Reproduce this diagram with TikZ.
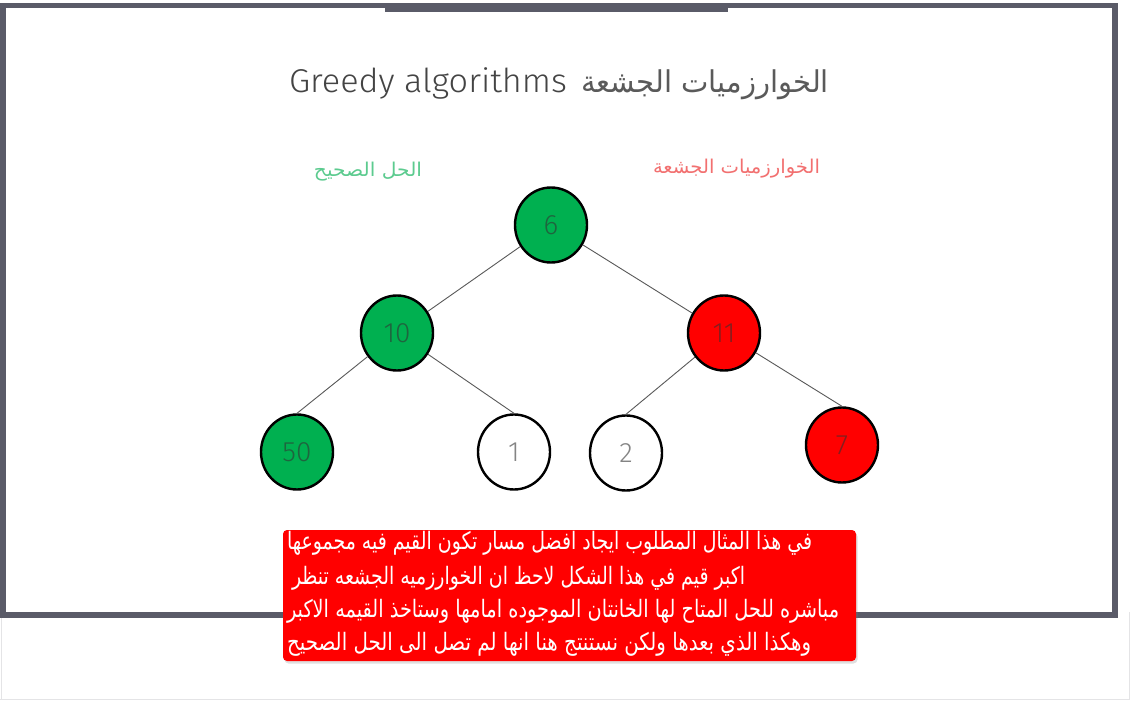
\documentclass[tikz,border=0pt]{standalone}
\usepackage{fontspec}
\usepackage{graphicx}
\usetikzlibrary{shapes.geometric,shadows}
\TeXXeTstate=1
\newfontfamily\arabicfont[Script=Arabic]{DejaVu Sans}
\newfontfamily\dinfont{Fira Sans Light}
\definecolor{framegray}{HTML}{5A5B68}
\definecolor{okgreen}{HTML}{00B050}
\definecolor{badred}{HTML}{FF0000}
\definecolor{lightline}{HTML}{E4E4E6}
\definecolor{titlegray}{HTML}{444444}
\definecolor{titlegrayar}{HTML}{5A5A5A}
\definecolor{labgreen}{HTML}{5CCB8F}
\definecolor{labred}{HTML}{F27070}
\tikzset{
  tnode/.style={ellipse, draw=black, line width=2.4pt, minimum width=72, minimum height=75,
    inner sep=0pt, font=\dinfont\fontsize{28}{28}\selectfont, text=black!80, text opacity=0.6},
  treeedge/.style={draw=black!65, line width=0.9pt},
  plain/.style={inner sep=0pt, outer sep=0pt},
  redbox/.style={fill=badred, rounded corners=4pt, drop shadow={opacity=0.25, shadow xshift=1.5pt, shadow yshift=-2.5pt}},
  boxline/.style={plain, anchor=base west, text=white, font=\arabicfont\fontsize{24}{24}\selectfont}
}
\begin{document}
\begin{tikzpicture}[x=1pt,y=-1pt]
\useasboundingbox (0,0) rectangle (1130,706);
\fill[white] (0,0) rectangle (1130,706);
% light outer lines
\draw[lightline, line width=1pt] (1.5,612) -- (1.5,699.5);
\draw[lightline, line width=1pt] (1129,612) -- (1129,699.5);
\draw[lightline, line width=1pt] (0,699.5) -- (1130,699.5);
% frame
\fill[framegray] (0,3) rectangle (1118,618);
\fill[white] (6,8) rectangle (1112,612);
\fill[framegray] (385,3) rectangle (728,12);
% title
\node[plain, anchor=base west, text=titlegray, font=\dinfont\fontsize{33}{33}\selectfont] (titlelat) at (289,93)
  {\resizebox{278pt}{\height}{Greedy algorithms}};
\node[plain, anchor=base east, text=titlegrayar, font=\arabicfont\fontsize{30}{30}\selectfont] (titlear) at (829,93)
  {\resizebox{248pt}{\height}{\beginR الخوارزميات الجشعة\endR}};
% labels
\node[plain, anchor=base east, text=labgreen, font=\arabicfont\fontsize{19}{19}\selectfont] (labok) at (422,176)
  {\resizebox{108pt}{\height}{\beginR الحل الصحيح\endR}};
\node[plain, anchor=base east, text=labred, font=\arabicfont\fontsize{19}{19}\selectfont] (labgreedy) at (820,174)
  {\resizebox{167pt}{\height}{\beginR الخوارزميات الجشعة\endR}};
% tree
\node[tnode, fill=okgreen] (n6) at (551,225) {6};
\node[tnode, fill=okgreen] (n10) at (397,333) {10};
\node[tnode, fill=badred] (n11) at (724,333) {11};
\node[tnode, fill=okgreen] (n50) at (297,452) {50};
\node[tnode, fill=white] (n1) at (514,452) {1};
\node[tnode, fill=white] (n2) at (626,453) {2};
\node[tnode, fill=badred] (n7) at (842,445) {7};
\draw[treeedge] (n6) -- (n10);
\draw[treeedge] (n6) -- (n11);
\draw[treeedge] (n10) -- (n50.north);
\draw[treeedge] (n10) -- (n1.north);
\draw[treeedge] (n11) -- (n2.north);
\draw[treeedge] (n11) -- (n7.north);
% red note box
\path[redbox] (283,530) rectangle (856,661);
\node[boxline] (l1) at (287,549) {\resizebox{525pt}{\height}{\beginR في هذا المثال المطلوب ايجاد افضل مسار تكون القيم فيه مجموعها\endR}};
\node[boxline] (l2) at (292,584) {\resizebox{453pt}{\height}{\beginR اكبر قيم في هذا الشكل لاحظ ان الخوارزميه الجشعه تنظر\endR}};
\node[boxline] (l3) at (287,617) {\resizebox{552pt}{\height}{\beginR مباشره للحل المتاح لها الخانتان الموجوده امامها وستاخذ القيمه الاكبر\endR}};
\node[boxline] (l4) at (287,650) {\resizebox{524pt}{\height}{\beginR وهكذا الذي بعدها ولكن نستنتج هنا انها لم تصل الى الحل الصحيح\endR}};
\end{tikzpicture}
\end{document}
